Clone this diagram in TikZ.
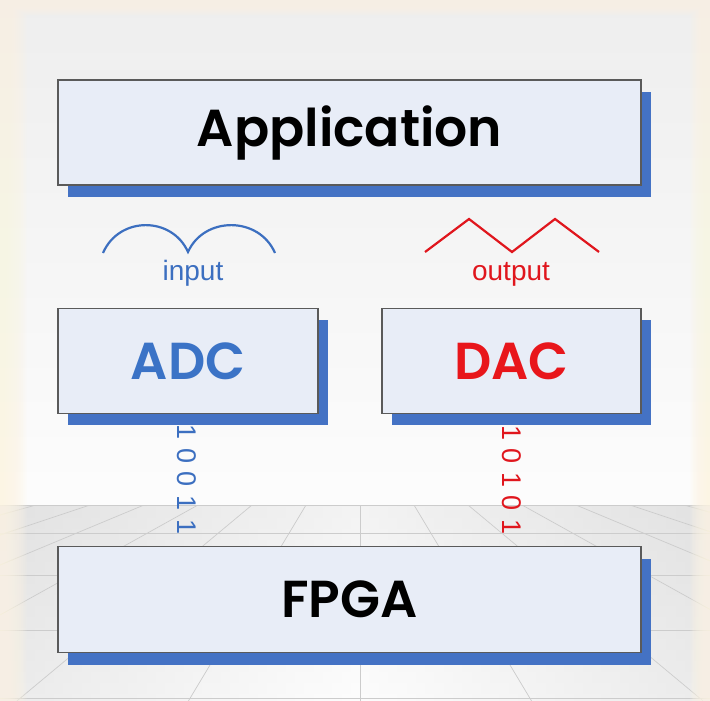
\documentclass[tikz,border=0pt]{standalone}
\usepackage{fontspec}
\setmainfont{Liberation Sans}
\newfontfamily\boxfont{Poppins SemiBold}
\usetikzlibrary{positioning,shadows}

\definecolor{boxfill}{HTML}{E8EDF7}
\definecolor{boxline}{HTML}{5A5A5A}
\definecolor{shadowblue}{HTML}{4472C4}
\definecolor{adcblue}{HTML}{3B73C6}
\definecolor{dacred}{HTML}{E8161B}
\definecolor{waveblue}{HTML}{3C6FC0}
\definecolor{wavered}{HTML}{E0161D}
\definecolor{cream}{HTML}{FDF5E4}
\definecolor{wallgray}{HTML}{EEEEEE}

\tikzset{
  block/.style={draw=boxline, fill=boxfill, line width=1.3pt, rectangle,
    minimum height=105pt, inner sep=0pt,
    font=\boxfont\fontsize{52}{58}\selectfont,
    drop shadow={shadow xshift=10pt, shadow yshift=-12pt, fill=shadowblue, opacity=1}},
  wide/.style={block, minimum width=583pt},
  half/.style={block, minimum width=260pt},
  wave/.style={line width=2.2pt, line join=miter},
  sig/.style={anchor=base, font=\fontsize{28}{32}\selectfont},
  bit/.style={rotate=-90, inner sep=0pt, font=\fontsize{27}{30}\selectfont},
  floorline/.style={draw=gray!40, line width=0.7pt},
}

\begin{document}
\begin{tikzpicture}[x=1pt, y=-1pt]
\useasboundingbox (0,0) rectangle (710,701);

% wall and floor
\shade[top color=wallgray, bottom color=white!98!gray] (0,0) rectangle (710,505);
\shade[top color=gray!17, bottom color=white!97!gray] (0,505) rectangle (710,701);
\shade[left color=gray!30, right color=gray!30, middle color=white, opacity=0.45] (0,505) rectangle (710,701);
\begin{scope}
  \clip (0,505) rectangle (710,701);
  \foreach \y in {505,533,575,630,698}
    \draw[floorline] (0,\y) -- (710,\y);
  \foreach \k in {-9,...,9}
    \draw[floorline] ({360+54*\k},505) -- ({360+171.6*\k},701);
\end{scope}

% warm glow round the edges
\foreach \i in {1,...,14}
  \fill[cream, opacity=0.14, even odd rule] (0,0) rectangle (710,701)
    ({1.9*\i},{1.1*\i}) rectangle ({710-1.4*\i},701);

% the blocks
\node[wide] (app) at (349.5,132.5) {Application};
\node[half, text=adcblue, below right=122pt and 0pt of app.south west] (adc) {ADC};
\node[half, text=dacred, minimum width=259pt, below left=122pt and 0pt of app.south east] (dac) {DAC};
\node[wide, minimum height=106pt, below right=132pt and 0pt of adc.south west] (fpga) {FPGA};

% analog signals
\draw[wave, draw=waveblue] (103,253) .. controls (119,216) and (172,216) .. (188,252)
  .. controls (204,216) and (259,216) .. (275,253);
\node[sig, text=waveblue] (inlabel) at (193,280) {input};
\draw[wave, draw=wavered] (425,252) -- (469,219) -- (512,252) -- (555,219) -- (599,252);
\node[sig, text=wavered] (outlabel) at (511,280) {output};

% bit streams to the FPGA
\foreach \b [count=\i] in {1,0,0,1,1}
  \node[bit, text=waveblue] (adcbit\i) at (187,{432+23.7*(\i-1)}) {\b};
\foreach \b [count=\i] in {1,0,1,0,1}
  \node[bit, text=wavered] (dacbit\i) at (512,{433+23.5*(\i-1)}) {\b};
\end{tikzpicture}
\end{document}
